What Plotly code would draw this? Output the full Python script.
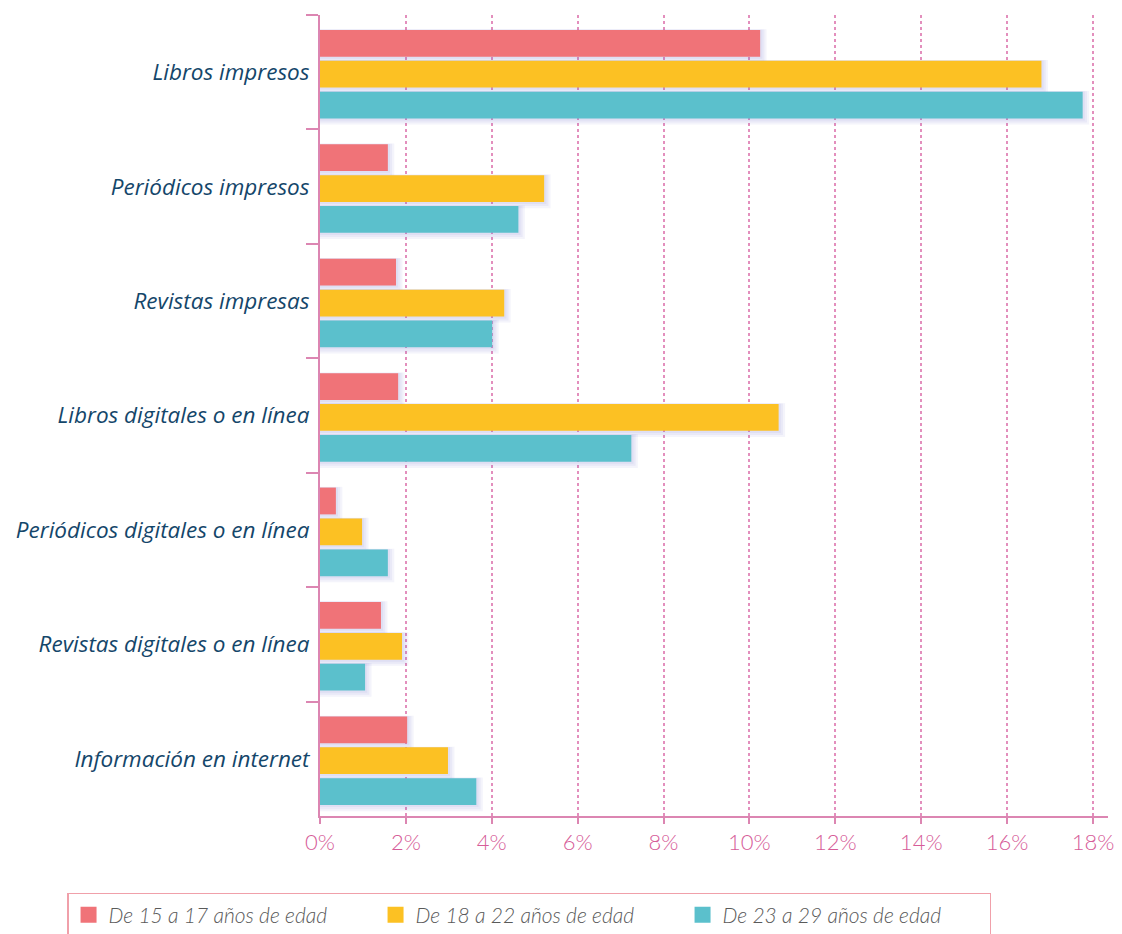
import plotly.graph_objects as go

categories = [
    "Libros impresos",
    "Periódicos impresos",
    "Revistas impresas",
    "Libros digitales o en línea",
    "Periódicos digitales o en línea",
    "Revistas digitales o en línea",
    "Información en internet",
]
series_names = ["De 15 a 17 años de edad", "De 18 a 22 años de edad", "De 23 a 29 años de edad"]
vals_15_17 = [10.25, 1.58, 1.77, 1.82, 0.37, 1.42, 2.03]
vals_18_22 = [16.8, 5.22, 4.29, 10.68, 0.98, 1.91, 2.98]
vals_23_29 = [17.76, 4.62, 4.01, 7.25, 1.58, 1.05, 3.64]
tick_vals = [0, 2, 4, 6, 8, 10, 12, 14, 16, 18]
tick_text = ["0%", "2%", "4%", "6%", "8%", "10%", "12%", "14%", "16%", "18%"]

colors = ["#f07378", "#fcc123", "#5bc0cc"]
offsets = [-0.37, -0.10, 0.17]
bar_w = 0.234
pink = "#dc86b2"
grid_pink = "#e38fbd"

fig = go.Figure()
all_vals = [vals_15_17, vals_18_22, vals_23_29]

# soft shadows (layered for a blurred look)
for vals, off in zip(all_vals, offsets):
    for k in (3, 2, 1):
        fig.add_trace(go.Bar(
            y=categories, x=[v + 0.05 * k for v in vals], orientation="h",
            offset=off - 0.002 * k, width=bar_w + 0.02 * k,
            marker=dict(color="rgba(120,110,200,0.08)", line=dict(width=0)),
            showlegend=False, hoverinfo="skip"))

for vals, off, col, name in zip(all_vals, offsets, colors, series_names):
    fig.add_trace(go.Bar(
        y=categories, x=vals, orientation="h", name=name,
        offset=off, width=bar_w,
        marker=dict(color=col, line=dict(width=0)),
        showlegend=False))

# legend entries
for col, name in zip(colors, series_names):
    fig.add_trace(go.Scatter(
        x=[None], y=[None], mode="markers", name=name,
        marker=dict(symbol="square", size=20, color=col)))

# the page body adds an 8px offset, so the figure is sized to fit the window
fig.update_layout(
    width=1114, height=926,
    margin=dict(l=312, r=14, t=7, b=118, autoexpand=False),
    barmode="overlay",
    plot_bgcolor="white", paper_bgcolor="white",
    font=dict(family="Open Sans"),
    showlegend=True,
    legend=dict(
        orientation="h", x=-0.321, y=-0.0961, xanchor="left", yanchor="top",
        bordercolor="#f0a0aa", borderwidth=1.5, bgcolor="white",
        font=dict(family="Lato", size=21, color="#5a5a5a", style="italic", weight=300),
        entrywidth=262, itemsizing="trace", tracegroupgap=0,
    ),
)

fig.update_xaxes(
    range=[0, 18.35], tickvals=tick_vals, ticktext=tick_text,
    showgrid=True, gridcolor=grid_pink, griddash="dot", gridwidth=1.5,
    showline=True, linecolor=pink, linewidth=2,
    ticks="outside", ticklen=6, tickcolor=pink, tickwidth=2,
    tickfont=dict(family="Lato", size=22, color="#d65c98", weight=300),
    zeroline=False, fixedrange=True, automargin=False,
)
fig.update_yaxes(
    autorange="reversed", type="category",
    showgrid=False, showline=True, linecolor=pink, linewidth=2,
    ticks="outside", ticklen=12, tickcolor=pink, tickwidth=2,
    tickson="boundaries", ticklabelstandoff=4, automargin=False,
    tickfont=dict(family="Open Sans", size=22.5, color="#14466a", style="italic"),
)

fig.write_html("out.html")
